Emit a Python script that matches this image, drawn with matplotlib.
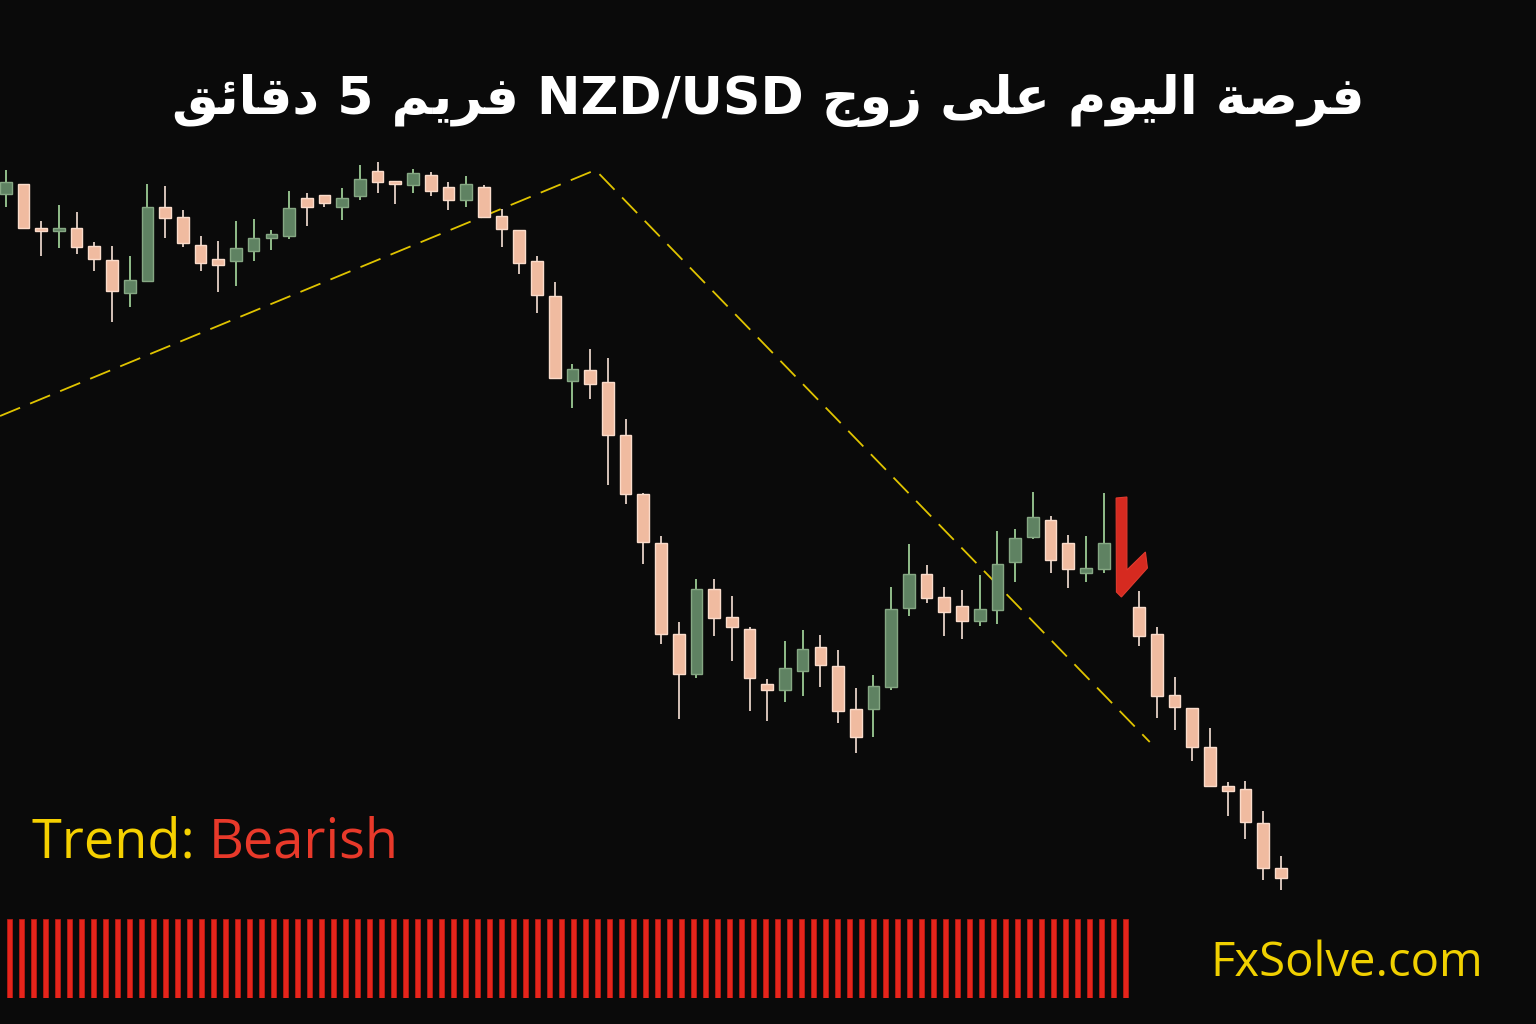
import numpy as np
import matplotlib
matplotlib.use("Agg")
import matplotlib.pyplot as plt
from matplotlib.patches import Polygon
from matplotlib.transforms import ScaledTranslation

# NZD/USD 5 min candles (nan = empty slot under the arrow)
nan = np.nan
opens = [0.60806, 0.60816, 0.60772, 0.60769, 0.60772, 0.60754, 0.60740, 0.60707, 0.60719, 0.60793,
         0.60783, 0.60755, 0.60741, 0.60739, 0.60749, 0.60762, 0.60764, 0.60802, 0.60805, 0.60793,
         0.60804, 0.60829, 0.60819, 0.60815, 0.60825, 0.60813, 0.60800, 0.60813, 0.60784, 0.60770,
         0.60739, 0.60704, 0.60619, 0.60630, 0.60618, 0.60565, 0.60506, 0.60457, 0.60366, 0.60326,
         0.60411, 0.60383, 0.60371, 0.60316, 0.60310, 0.60329, 0.60353, 0.60334, 0.60291, 0.60291,
         0.60313, 0.60392, 0.60426, 0.60403, 0.60394, 0.60379, 0.60390, 0.60438, 0.60463, 0.60480,
         0.60457, 0.60427, 0.60431, nan, 0.60393, 0.60366, 0.60305, 0.60292, 0.60253, 0.60214,
         0.60211, 0.60177, 0.60132]
highs = [0.60830, 0.60816, 0.60779, 0.60795, 0.60788, 0.60758, 0.60754, 0.60744, 0.60816, 0.60814,
         0.60790, 0.60764, 0.60759, 0.60779, 0.60781, 0.60770, 0.60809, 0.60807, 0.60805, 0.60812,
         0.60835, 0.60838, 0.60819, 0.60831, 0.60828, 0.60818, 0.60824, 0.60815, 0.60791, 0.60770,
         0.60744, 0.60718, 0.60636, 0.60651, 0.60642, 0.60581, 0.60507, 0.60464, 0.60378, 0.60421,
         0.60421, 0.60404, 0.60373, 0.60321, 0.60359, 0.60370, 0.60365, 0.60350, 0.60312, 0.60325,
         0.60413, 0.60456, 0.60435, 0.60413, 0.60410, 0.60425, 0.60469, 0.60471, 0.60508, 0.60484,
         0.60465, 0.60464, 0.60507, nan, 0.60409, 0.60373, 0.60323, 0.60292, 0.60272, 0.60218,
         0.60219, 0.60189, 0.60144]
lows = [0.60793, 0.60772, 0.60744, 0.60752, 0.60746, 0.60729, 0.60678, 0.60693, 0.60718, 0.60762,
        0.60753, 0.60729, 0.60708, 0.60714, 0.60739, 0.60750, 0.60761, 0.60774, 0.60793, 0.60780,
        0.60800, 0.60807, 0.60796, 0.60807, 0.60804, 0.60790, 0.60793, 0.60782, 0.60753, 0.60726,
        0.60687, 0.60622, 0.60592, 0.60601, 0.60515, 0.60496, 0.60436, 0.60356, 0.60281, 0.60322,
        0.60364, 0.60339, 0.60289, 0.60279, 0.60298, 0.60304, 0.60313, 0.60277, 0.60247, 0.60263,
        0.60310, 0.60384, 0.60397, 0.60364, 0.60361, 0.60374, 0.60376, 0.60418, 0.60461, 0.60427,
        0.60412, 0.60418, 0.60427, nan, 0.60354, 0.60282, 0.60270, 0.60239, 0.60213, 0.60184,
        0.60161, 0.60120, 0.60110]
closes = [0.60818, 0.60772, 0.60769, 0.60772, 0.60753, 0.60741, 0.60709, 0.60720, 0.60793, 0.60782,
          0.60757, 0.60737, 0.60735, 0.60752, 0.60762, 0.60766, 0.60792, 0.60793, 0.60797, 0.60802,
          0.60821, 0.60818, 0.60816, 0.60827, 0.60809, 0.60800, 0.60816, 0.60783, 0.60771, 0.60737,
          0.60705, 0.60622, 0.60631, 0.60616, 0.60565, 0.60506, 0.60458, 0.60366, 0.60326, 0.60411,
          0.60382, 0.60373, 0.60322, 0.60310, 0.60332, 0.60351, 0.60335, 0.60289, 0.60263, 0.60314,
          0.60391, 0.60426, 0.60402, 0.60388, 0.60379, 0.60391, 0.60436, 0.60462, 0.60483, 0.60440,
          0.60431, 0.60432, 0.60457, nan, 0.60364, 0.60304, 0.60293, 0.60253, 0.60214, 0.60209,
          0.60178, 0.60132, 0.60122]

# dashed trend lines (bar index, price)
trend_x = [-0.32, 33.3, 64.6]
trend_y = [0.60584, 0.60830, 0.60258]

arrow_bar = 63
arrow_price = 0.60403

# bottom strength histogram
strength = [1.0] * 94

title_words = ["فرصة", "اليوم", "على", "زوج", "NZD/USD", "فريم", "5", "دقائق"]

# --- simple arabic shaping (presentation forms) for matplotlib ---
FORMS = {
    'ف': ('\uFED1', '\uFED2', '\uFED3', '\uFED4'),
    'ر': ('\uFEAD', '\uFEAE', None, None),
    'ص': ('\uFEB9', '\uFEBA', '\uFEBB', '\uFEBC'),
    'ة': ('\uFE93', '\uFE94', None, None),
    'ا': ('\uFE8D', '\uFE8E', None, None),
    'ل': ('\uFEDD', '\uFEDE', '\uFEDF', '\uFEE0'),
    'ي': ('\uFEF1', '\uFEF2', '\uFEF3', '\uFEF4'),
    'و': ('\uFEED', '\uFEEE', None, None),
    'م': ('\uFEE1', '\uFEE2', '\uFEE3', '\uFEE4'),
    'ع': ('\uFEC9', '\uFECA', '\uFECB', '\uFECC'),
    'ى': ('\uFEEF', '\uFEF0', None, None),
    'ز': ('\uFEAF', '\uFEB0', None, None),
    'ج': ('\uFE9D', '\uFE9E', '\uFE9F', '\uFEA0'),
    'د': ('\uFEA9', '\uFEAA', None, None),
    'ق': ('\uFED5', '\uFED6', '\uFED7', '\uFED8'),
    'ئ': ('\uFE89', '\uFE8A', '\uFE8B', '\uFE8C'),
}


def shape_word(w):
    if w[0] not in FORMS:
        return w
    out = []
    for i, ch in enumerate(w):
        f = FORMS[ch]
        prev_joins = i > 0 and FORMS[w[i - 1]][2] is not None
        next_joins = i < len(w) - 1 and f[2] is not None
        if prev_joins and next_joins:
            out.append(f[3])
        elif prev_joins:
            out.append(f[1])
        elif next_joins:
            out.append(f[2])
        else:
            out.append(f[0])
    return "".join(out[::-1])


title = " ".join(shape_word(w) for w in title_words[::-1])

BG = "#0a0a0a"
fig = plt.figure(figsize=(15.36, 10.24), dpi=100, facecolor=BG)
ax = fig.add_axes([0, 0, 1, 1])
ax.set_facecolor(BG)
ax.set_xlim(-0.322, 86.41)
ax.set_ylim(0.59976, 0.61000)
ax.axis("off")

o = np.array(opens)
h = np.array(highs)
l = np.array(lows)
c = np.array(closes)
x = np.arange(len(o))
ok = ~np.isnan(o)
up = ok & (c >= o)
dn = ok & (c < o)

ax.plot(trend_x, trend_y, color="#e0c400", lw=1.3, dashes=(12, 6), zorder=1)

for m, body, edge, wick in [(up, "#5f8262", "#86a884", "#a8dca0"),
                            (dn, "#f0bba0", "#fbdccb", "#f7e2d6")]:
    ax.vlines(x[m], l[m], h[m], color=wick, lw=1.2, zorder=2)
    ax.bar(x[m], c[m] - o[m], bottom=o[m], width=0.66, color=body,
           edgecolor=edge, linewidth=1.0, zorder=3)

# red arrow (shape in inches around anchor)
shape = np.array([(-5.3, 99), (5.5, 100), (5.5, 27), (24, 45), (26, 29), (0, 0), (-5, 5)]) / 100.0
tr = fig.dpi_scale_trans + ScaledTranslation(arrow_bar, arrow_price, ax.transData)
ax.add_patch(Polygon(shape, closed=True, transform=tr, facecolor="#d62a20",
                     edgecolor="#e03a2e", lw=0.8, zorder=5))

# histogram strip at the bottom
hx = fig.add_axes([0, 26 / 1024, 1, 79 / 1024])
hx.set_facecolor(BG)
hx.axis("off")
hx.set_xlim(-0.775, 127.2)
hx.set_ylim(0, 1)
hx.bar(np.arange(len(strength)), strength, width=0.39, color="#e6241b",
       edgecolor="#b81a14", linewidth=0.6)

fig.text(0.5, 0.902, title, color="white", fontsize=37.5, fontweight="bold",
         family=["DejaVu Sans"], ha="center", va="center")

t1 = fig.text(32 / 1536, 1 - 858 / 1024, "Trend: ", color="#f5d000", fontsize=39,
              family=["Open Sans", "DejaVu Sans"], ha="left", va="baseline")
fig.canvas.draw()
bb = t1.get_window_extent()
fig.text(bb.x1 / 1536, 1 - 858 / 1024, "Bearish", color="#e8392a", fontsize=39,
         family=["Open Sans", "DejaVu Sans"], ha="left", va="baseline")

fig.text(1210 / 1536, 1 - 976 / 1024, "FxSolve.com", color="#f0d000", fontsize=34,
         family=["Open Sans", "DejaVu Sans"], ha="left", va="baseline")

fig.savefig("out.png", dpi=100, facecolor=BG)
